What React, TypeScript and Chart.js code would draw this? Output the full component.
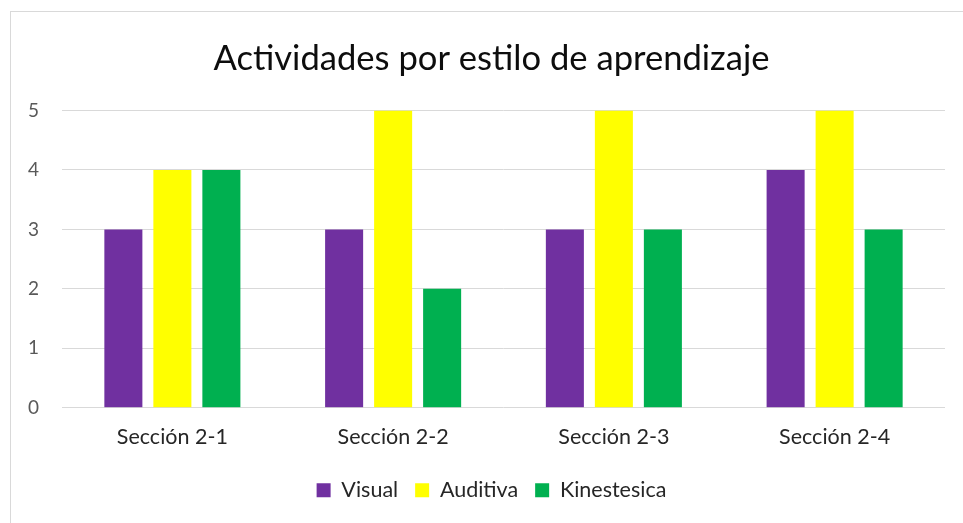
import React, { useEffect, useRef } from "react";
import { Chart, registerables } from "chart.js";

Chart.register(...registerables);

const categories = ["Sección 2-1", "Sección 2-2", "Sección 2-3", "Sección 2-4"];
const visual = [3, 3, 3, 4];
const auditiva = [4, 5, 5, 5];
const kinestesica = [4, 2, 3, 3];
const yTicks = [0, 1, 2, 3, 4, 5];
const titleText = "Actividades por estilo de aprendizaje";

const framePlugin = {
  id: "frame",
  beforeDraw(chart: any) {
    const ctx = chart.ctx;
    ctx.save();
    ctx.fillStyle = "#ffffff";
    ctx.fillRect(0, 0, chart.width, chart.height);
    ctx.strokeStyle = "#d9d9d9";
    ctx.lineWidth = 1;
    ctx.strokeRect(10.5, 11.5, chart.width + 20, chart.height + 20);
    ctx.restore();
  },
};

export default function App() {
  const ref = useRef<HTMLCanvasElement | null>(null);
  useEffect(() => {
    document.body.style.margin = "0";
    const font = "Lato, 'Open Sans', sans-serif";
    const chart = new Chart(ref.current!, {
      type: "bar",
      data: {
        labels: categories,
        datasets: [
          { label: "Visual", data: visual, backgroundColor: "#7030A0" },
          { label: "Auditiva", data: auditiva, backgroundColor: "#FFFF00" },
          { label: "Kinestesica", data: kinestesica, backgroundColor: "#00B050" },
        ],
      },
      options: {
        animation: false,
        responsive: false,
        layout: { padding: { top: 11, left: 38, right: 18, bottom: 12 } },
        datasets: {
          bar: { categoryPercentage: 0.666, barPercentage: 0.776 },
        } as any,
        plugins: {
          title: {
            display: true,
            text: titleText,
            color: "#0d0d0d",
            font: { family: font, size: 34.6, weight: "normal" },
            padding: { top: 27, bottom: 31 },
          },
          legend: {
            position: "bottom",
            labels: {
              boxWidth: 14,
              boxHeight: 14,
              color: "#262626",
              font: { family: font, size: 21.5 },
              padding: 17,
            },
          },
          tooltip: { enabled: false },
        },
        scales: {
          x: {
            grid: { display: false },
            border: { display: false },
            ticks: { color: "#262626", font: { family: font, size: 21.5 }, padding: 8 },
            afterFit: (scale: any) => {
              scale.height = scale.height + 5;
            },
          },
          y: {
            min: 0,
            max: 5,
            afterBuildTicks: (scale: any) => {
              scale.ticks = yTicks.map((v) => ({ value: v }));
            },
            afterFit: (scale: any) => {
              scale.width = 24;
            },
            grid: { color: "#d9d9d9", drawTicks: false, lineWidth: 1 },
            border: { display: false },
            ticks: { color: "#595959", font: { family: font, size: 19 }, mirror: true, padding: -34 },
          },
        },
      },
      plugins: [framePlugin],
    });
    return () => chart.destroy();
  }, []);
  return (
    <div style={{ width: 963, height: 523 }}>
      <canvas ref={ref} width={963} height={523} />
    </div>
  );
}
